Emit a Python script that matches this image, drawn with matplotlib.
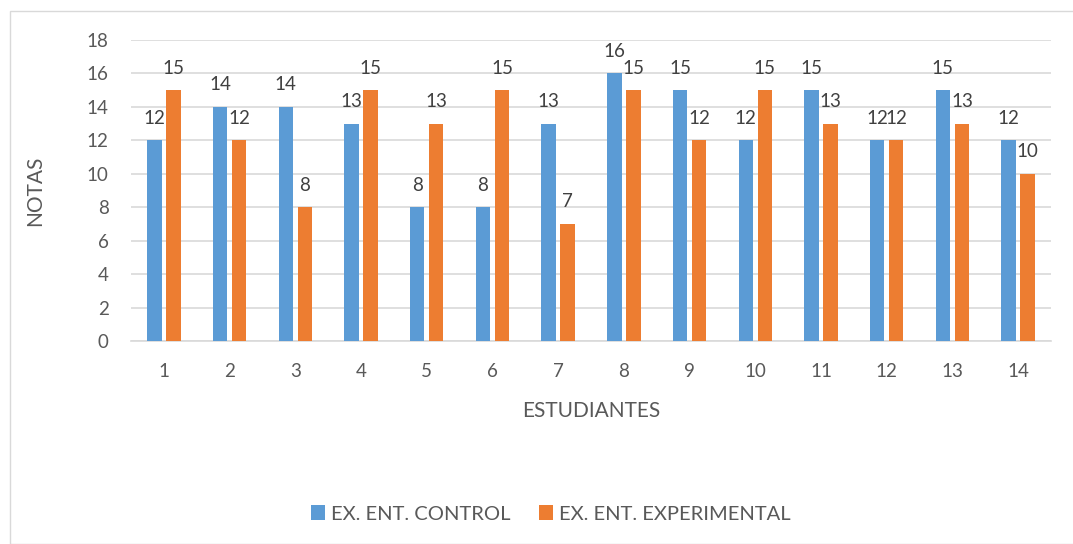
import matplotlib
matplotlib.use("Agg")
import matplotlib.pyplot as plt
import numpy as np
from matplotlib.patches import Rectangle

categories = ["1", "2", "3", "4", "5", "6", "7", "8", "9", "10", "11", "12", "13", "14"]
control = [12, 14, 14, 13, 8, 8, 13, 16, 15, 12, 15, 12, 15, 12]
experimental = [15, 12, 8, 15, 13, 15, 7, 15, 12, 15, 13, 12, 13, 10]
series_names = ["EX. ENT. CONTROL", "EX. ENT. EXPERIMENTAL"]
y_ticks = [0, 2, 4, 6, 8, 10, 12, 14, 16, 18]

BLUE = "#5B9BD5"
ORANGE = "#ED7D31"
TXT = "#595959"
GRID = "#D9D9D9"

plt.rcParams['font.family'] = ['Lato', 'DejaVu Sans']

W, H = 1073, 544
fig = plt.figure(figsize=(W / 100, H / 100), dpi=100)

# chart border
fig.patches.append(Rectangle((10 / W, 0), 1.2, 1 - 11 / H, transform=fig.transFigure,
                             fill=False, edgecolor=GRID, linewidth=1.0))

ax = fig.add_axes([131 / W, 1 - 341 / H, (1051 - 131) / W, (341 - 40) / H])
x = np.arange(len(categories))
bw = 0.22
off = 0.145
b1 = ax.bar(x - off, control, bw, color=BLUE, label=series_names[0], zorder=3)
b2 = ax.bar(x + off, experimental, bw, color=ORANGE, label=series_names[1], zorder=3)

for bars, vals in ((b1, control), (b2, experimental)):
    for r, v in zip(bars, vals):
        ax.annotate(str(v), (r.get_x() + r.get_width() / 2, v), xytext=(0, 12),
                    textcoords="offset points", ha="center", va="baseline",
                    fontsize=13.5, color="#404040", zorder=4)

ax.set_xlim(-0.5, len(categories) - 0.5)
ax.set_ylim(0, 18)
ax.set_yticks(y_ticks)
ax.set_xticks(x)
ax.set_xticklabels(categories)
ax.yaxis.grid(True, color=GRID, linewidth=1.2, zorder=0)
ax.set_axisbelow(True)
for s in ("top", "right", "left"):
    ax.spines[s].set_visible(False)
ax.spines["bottom"].set_color(GRID)
ax.spines["bottom"].set_linewidth(1.2)
ax.tick_params(axis="both", length=0, labelsize=13.5, labelcolor=TXT)
ax.tick_params(axis="y", pad=16)
ax.tick_params(axis="x", pad=16)

ax.set_ylabel("NOTAS", fontsize=15, color=TXT, labelpad=30)
ax.set_xlabel("ESTUDIANTES", fontsize=15, color=TXT, labelpad=15)

fig.legend(handles=[b1, b2], labels=series_names, loc="center",
           bbox_to_anchor=(551 / W, 1 - 514 / H), ncol=2, frameon=False,
           fontsize=14.5, labelcolor=TXT, handlelength=0.7, handleheight=0.7,
           handletextpad=0.3, columnspacing=1.4)

fig.savefig("out.png", dpi=100)
